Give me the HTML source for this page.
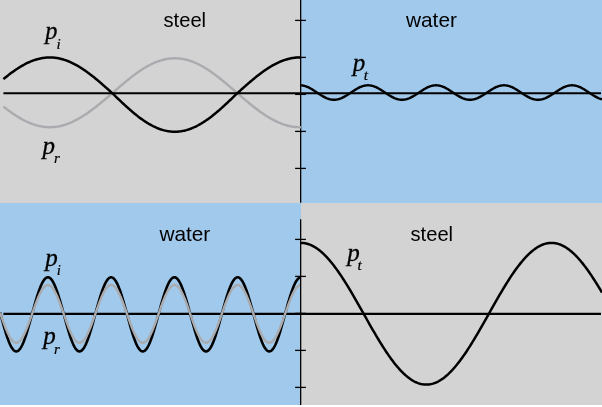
<!DOCTYPE html>
<html><head><meta charset="utf-8"><title>Wave transmission steel/water</title>
<style>
html,body{margin:0;padding:0;background:#fff;}
body{width:602px;height:407px;overflow:hidden;font-family:"Liberation Sans",sans-serif;}
svg{display:block;position:absolute;left:0;top:0;}
.txt{will-change:transform;}
</style></head><body>
<svg width="602" height="407" viewBox="0 0 602 407">
<rect x="0" y="0" width="602" height="407" fill="#fff"/>
<rect x="0" y="0" width="301" height="203" fill="#d3d3d3"/>
<rect x="301" y="0" width="301" height="203" fill="#a1c9eb"/>
<rect x="0" y="203" width="301" height="202" fill="#a1c9eb"/>
<rect x="301" y="203" width="301" height="202" fill="#d3d3d3"/>
<g fill="none" stroke-linecap="butt" stroke-linejoin="round">
<path d="M3.40 106.59 L4.40 107.37 L5.40 108.14 L6.40 108.90 L7.40 109.65 L8.40 110.39 L9.40 111.13 L10.40 111.85 L11.39 112.55 L12.39 113.25 L13.39 113.93 L14.39 114.60 L15.39 115.26 L16.39 115.90 L17.39 116.53 L18.39 117.14 L19.39 117.74 L20.39 118.33 L21.39 118.89 L22.39 119.44 L23.39 119.98 L24.39 120.50 L25.39 121.00 L26.38 121.48 L27.38 121.95 L28.38 122.39 L29.38 122.82 L30.38 123.23 L31.38 123.62 L32.38 123.99 L33.38 124.35 L34.38 124.68 L35.38 124.99 L36.38 125.28 L37.38 125.56 L38.38 125.81 L39.38 126.04 L40.38 126.25 L41.37 126.44 L42.37 126.61 L43.37 126.76 L44.37 126.88 L45.37 126.99 L46.37 127.07 L47.37 127.14 L48.37 127.18 L49.37 127.20 L50.37 127.20 L51.37 127.17 L52.37 127.13 L53.37 127.06 L54.37 126.98 L55.36 126.87 L56.36 126.74 L57.36 126.59 L58.36 126.42 L59.36 126.22 L60.36 126.01 L61.36 125.77 L62.36 125.52 L63.36 125.24 L64.36 124.95 L65.36 124.63 L66.36 124.30 L67.36 123.94 L68.36 123.57 L69.36 123.18 L70.35 122.76 L71.35 122.33 L72.35 121.88 L73.35 121.42 L74.35 120.93 L75.35 120.43 L76.35 119.91 L77.35 119.37 L78.35 118.82 L79.35 118.25 L80.35 117.66 L81.35 117.06 L82.35 116.45 L83.35 115.81 L84.35 115.17 L85.34 114.51 L86.34 113.84 L87.34 113.15 L88.34 112.46 L89.34 111.75 L90.34 111.03 L91.34 110.29 L92.34 109.55 L93.34 108.80 L94.34 108.03 L95.34 107.26 L96.34 106.48 L97.34 105.69 L98.34 104.89 L99.34 104.08 L100.33 103.27 L101.33 102.45 L102.33 101.63 L103.33 100.80 L104.33 99.96 L105.33 99.12 L106.33 98.28 L107.33 97.44 L108.33 96.59 L109.33 95.74 L110.33 94.88 L111.33 94.03 L112.33 93.18 L113.33 92.30 L114.33 91.42 L115.32 90.55 L116.32 89.68 L117.32 88.81 L118.32 87.94 L119.32 87.07 L120.32 86.21 L121.32 85.36 L122.32 84.50 L123.32 83.66 L124.32 82.82 L125.32 81.98 L126.32 81.16 L127.32 80.34 L128.32 79.53 L129.32 78.73 L130.31 77.93 L131.31 77.15 L132.31 76.38 L133.31 75.61 L134.31 74.86 L135.31 74.12 L136.31 73.39 L137.31 72.68 L138.31 71.98 L139.31 71.29 L140.31 70.61 L141.31 69.95 L142.31 69.31 L143.31 68.67 L144.31 68.06 L145.30 67.46 L146.30 66.87 L147.30 66.31 L148.30 65.76 L149.30 65.22 L150.30 64.71 L151.30 64.21 L152.30 63.73 L153.30 63.27 L154.30 62.83 L155.30 62.41 L156.30 62.01 L157.30 61.62 L158.30 61.26 L159.29 60.92 L160.29 60.59 L161.29 60.29 L162.29 60.01 L163.29 59.75 L164.29 59.51 L165.29 59.29 L166.29 59.10 L167.29 58.92 L168.29 58.77 L169.29 58.63 L170.29 58.52 L171.29 58.44 L172.29 58.37 L173.29 58.33 L174.28 58.30 L175.28 58.30 L176.28 58.32 L177.28 58.37 L178.28 58.43 L179.28 58.52 L180.28 58.63 L181.28 58.76 L182.28 58.91 L183.28 59.09 L184.28 59.29 L185.28 59.50 L186.28 59.74 L187.28 60.00 L188.28 60.28 L189.27 60.58 L190.27 60.91 L191.27 61.25 L192.27 61.61 L193.27 61.99 L194.27 62.40 L195.27 62.82 L196.27 63.26 L197.27 63.72 L198.27 64.20 L199.27 64.69 L200.27 65.21 L201.27 65.74 L202.27 66.29 L203.27 66.86 L204.26 67.44 L205.26 68.04 L206.26 68.65 L207.26 69.29 L208.26 69.93 L209.26 70.59 L210.26 71.27 L211.26 71.96 L212.26 72.66 L213.26 73.37 L214.26 74.10 L215.26 74.84 L216.26 75.59 L217.26 76.35 L218.26 77.13 L219.25 77.91 L220.25 78.70 L221.25 79.50 L222.25 80.31 L223.25 81.13 L224.25 81.96 L225.25 82.79 L226.25 83.63 L227.25 84.48 L228.25 85.33 L229.25 86.19 L230.25 87.05 L231.25 87.91 L232.25 88.78 L233.25 89.65 L234.24 90.52 L235.24 91.40 L236.24 92.27 L237.24 93.15 L238.24 94.00 L239.24 94.86 L240.24 95.71 L241.24 96.56 L242.24 97.41 L243.24 98.26 L244.24 99.10 L245.24 99.94 L246.24 100.77 L247.24 101.60 L248.24 102.43 L249.23 103.25 L250.23 104.06 L251.23 104.86 L252.23 105.66 L253.23 106.45 L254.23 107.24 L255.23 108.01 L256.23 108.77 L257.23 109.53 L258.23 110.27 L259.23 111.00 L260.23 111.73 L261.23 112.44 L262.23 113.13 L263.22 113.82 L264.22 114.49 L265.22 115.15 L266.22 115.80 L267.22 116.43 L268.22 117.04 L269.22 117.64 L270.22 118.23 L271.22 118.80 L272.22 119.35 L273.22 119.89 L274.22 120.41 L275.22 120.91 L276.22 121.40 L277.22 121.87 L278.21 122.32 L279.21 122.75 L280.21 123.16 L281.21 123.56 L282.21 123.93 L283.21 124.29 L284.21 124.62 L285.21 124.94 L286.21 125.24 L287.21 125.51 L288.21 125.77 L289.21 126.00 L290.21 126.22 L291.21 126.41 L292.21 126.58 L293.20 126.73 L294.20 126.86 L295.20 126.97 L296.20 127.06 L297.20 127.13 L298.20 127.17 L299.20 127.20 L300.20 127.20" stroke="#a9abae" stroke-width="2.4"/>
<path d="M3.40 79.13 L4.40 78.30 L5.40 77.49 L6.40 76.69 L7.40 75.90 L8.40 75.12 L9.40 74.35 L10.40 73.59 L11.39 72.85 L12.39 72.12 L13.39 71.40 L14.39 70.70 L15.39 70.00 L16.39 69.33 L17.39 68.67 L18.39 68.02 L19.39 67.39 L20.39 66.78 L21.39 66.18 L22.39 65.60 L23.39 65.04 L24.39 64.50 L25.39 63.97 L26.38 63.46 L27.38 62.97 L28.38 62.51 L29.38 62.05 L30.38 61.62 L31.38 61.21 L32.38 60.82 L33.38 60.45 L34.38 60.10 L35.38 59.77 L36.38 59.46 L37.38 59.18 L38.38 58.91 L39.38 58.67 L40.38 58.45 L41.37 58.25 L42.37 58.07 L43.37 57.92 L44.37 57.78 L45.37 57.67 L46.37 57.58 L47.37 57.52 L48.37 57.47 L49.37 57.45 L50.37 57.45 L51.37 57.48 L52.37 57.52 L53.37 57.59 L54.37 57.69 L55.36 57.80 L56.36 57.94 L57.36 58.09 L58.36 58.27 L59.36 58.48 L60.36 58.70 L61.36 58.95 L62.36 59.22 L63.36 59.51 L64.36 59.82 L65.36 60.15 L66.36 60.50 L67.36 60.87 L68.36 61.27 L69.36 61.68 L70.35 62.12 L71.35 62.57 L72.35 63.04 L73.35 63.53 L74.35 64.04 L75.35 64.57 L76.35 65.12 L77.35 65.68 L78.35 66.26 L79.35 66.86 L80.35 67.48 L81.35 68.11 L82.35 68.76 L83.35 69.42 L84.35 70.10 L85.34 70.79 L86.34 71.50 L87.34 72.22 L88.34 72.95 L89.34 73.70 L90.34 74.46 L91.34 75.23 L92.34 76.01 L93.34 76.80 L94.34 77.60 L95.34 78.42 L96.34 79.24 L97.34 80.07 L98.34 80.91 L99.34 81.76 L100.33 82.61 L101.33 83.47 L102.33 84.34 L103.33 85.21 L104.33 86.09 L105.33 86.97 L106.33 87.86 L107.33 88.75 L108.33 89.64 L109.33 90.53 L110.33 91.43 L111.33 92.33 L112.33 93.23 L113.33 94.19 L114.33 95.16 L115.32 96.13 L116.32 97.09 L117.32 98.05 L118.32 99.01 L119.32 99.97 L120.32 100.92 L121.32 101.87 L122.32 102.81 L123.32 103.74 L124.32 104.67 L125.32 105.59 L126.32 106.50 L127.32 107.41 L128.32 108.30 L129.32 109.19 L130.31 110.06 L131.31 110.93 L132.31 111.78 L133.31 112.63 L134.31 113.46 L135.31 114.27 L136.31 115.08 L137.31 115.87 L138.31 116.64 L139.31 117.40 L140.31 118.15 L141.31 118.88 L142.31 119.59 L143.31 120.29 L144.31 120.97 L145.30 121.63 L146.30 122.28 L147.30 122.91 L148.30 123.51 L149.30 124.10 L150.30 124.67 L151.30 125.22 L152.30 125.75 L153.30 126.26 L154.30 126.74 L155.30 127.21 L156.30 127.66 L157.30 128.08 L158.30 128.48 L159.29 128.86 L160.29 129.22 L161.29 129.55 L162.29 129.86 L163.29 130.15 L164.29 130.41 L165.29 130.65 L166.29 130.87 L167.29 131.07 L168.29 131.23 L169.29 131.38 L170.29 131.50 L171.29 131.60 L172.29 131.67 L173.29 131.72 L174.28 131.75 L175.28 131.75 L176.28 131.72 L177.28 131.67 L178.28 131.60 L179.28 131.51 L180.28 131.38 L181.28 131.24 L182.28 131.07 L183.28 130.88 L184.28 130.66 L185.28 130.42 L186.28 130.16 L187.28 129.87 L188.28 129.56 L189.27 129.23 L190.27 128.87 L191.27 128.49 L192.27 128.09 L193.27 127.67 L194.27 127.23 L195.27 126.76 L196.27 126.27 L197.27 125.76 L198.27 125.24 L199.27 124.69 L200.27 124.12 L201.27 123.53 L202.27 122.92 L203.27 122.30 L204.26 121.65 L205.26 120.99 L206.26 120.31 L207.26 119.62 L208.26 118.90 L209.26 118.17 L210.26 117.43 L211.26 116.67 L212.26 115.89 L213.26 115.10 L214.26 114.30 L215.26 113.48 L216.26 112.65 L217.26 111.81 L218.26 110.96 L219.25 110.09 L220.25 109.21 L221.25 108.33 L222.25 107.43 L223.25 106.53 L224.25 105.62 L225.25 104.70 L226.25 103.77 L227.25 102.83 L228.25 101.89 L229.25 100.95 L230.25 100.00 L231.25 99.04 L232.25 98.08 L233.25 97.12 L234.24 96.16 L235.24 95.19 L236.24 94.22 L237.24 93.26 L238.24 92.35 L239.24 91.46 L240.24 90.56 L241.24 89.67 L242.24 88.77 L243.24 87.88 L244.24 87.00 L245.24 86.12 L246.24 85.24 L247.24 84.37 L248.24 83.50 L249.23 82.64 L250.23 81.78 L251.23 80.94 L252.23 80.10 L253.23 79.26 L254.23 78.44 L255.23 77.63 L256.23 76.83 L257.23 76.03 L258.23 75.25 L259.23 74.48 L260.23 73.72 L261.23 72.97 L262.23 72.24 L263.22 71.52 L264.22 70.81 L265.22 70.12 L266.22 69.44 L267.22 68.78 L268.22 68.13 L269.22 67.50 L270.22 66.88 L271.22 66.28 L272.22 65.70 L273.22 65.14 L274.22 64.59 L275.22 64.06 L276.22 63.55 L277.22 63.06 L278.21 62.58 L279.21 62.13 L280.21 61.69 L281.21 61.28 L282.21 60.89 L283.21 60.51 L284.21 60.16 L285.21 59.83 L286.21 59.52 L287.21 59.23 L288.21 58.96 L289.21 58.71 L290.21 58.48 L291.21 58.28 L292.21 58.10 L293.20 57.94 L294.20 57.80 L295.20 57.69 L296.20 57.60 L297.20 57.53 L298.20 57.48 L299.20 57.45 L300.20 57.45" stroke="#000" stroke-width="2.5"/>
<path d="M301.00 85.33 L301.50 85.37 L302.00 85.42 L302.50 85.49 L303.00 85.58 L303.50 85.68 L304.00 85.79 L304.50 85.92 L305.00 86.06 L305.50 86.22 L306.00 86.39 L306.50 86.57 L307.00 86.76 L307.50 86.97 L308.00 87.19 L308.50 87.42 L309.00 87.67 L309.50 87.92 L310.00 88.18 L310.50 88.45 L311.00 88.73 L311.50 89.02 L312.00 89.32 L312.50 89.62 L313.00 89.93 L313.50 90.25 L314.00 90.57 L314.50 90.89 L315.00 91.22 L315.50 91.55 L316.00 91.88 L316.50 92.22 L317.00 92.55 L317.50 92.88 L318.00 93.22 L318.50 93.55 L319.00 93.88 L319.50 94.21 L320.00 94.53 L320.50 94.85 L321.00 95.17 L321.50 95.48 L322.00 95.78 L322.50 96.08 L323.00 96.37 L323.50 96.65 L324.00 96.92 L324.50 97.18 L325.00 97.43 L325.50 97.68 L326.00 97.91 L326.50 98.13 L327.00 98.34 L327.50 98.53 L328.00 98.71 L328.50 98.88 L329.00 99.04 L329.50 99.18 L330.00 99.31 L330.50 99.42 L331.00 99.52 L331.50 99.61 L332.00 99.68 L332.50 99.73 L333.00 99.77 L333.50 99.79 L334.00 99.80 L334.50 99.79 L335.00 99.77 L335.50 99.73 L336.00 99.68 L336.50 99.61 L337.00 99.52 L337.50 99.42 L338.00 99.31 L338.50 99.18 L339.00 99.04 L339.50 98.88 L340.00 98.71 L340.50 98.53 L341.00 98.34 L341.50 98.13 L342.00 97.91 L342.50 97.68 L343.00 97.43 L343.50 97.18 L344.00 96.92 L344.50 96.65 L345.00 96.37 L345.50 96.08 L346.00 95.78 L346.50 95.48 L347.00 95.17 L347.50 94.85 L348.00 94.53 L348.50 94.21 L349.00 93.88 L349.50 93.55 L350.00 93.22 L350.50 92.88 L351.00 92.55 L351.50 92.22 L352.00 91.88 L352.50 91.55 L353.00 91.22 L353.50 90.89 L354.00 90.57 L354.50 90.25 L355.00 89.93 L355.50 89.62 L356.00 89.32 L356.50 89.02 L357.00 88.73 L357.50 88.45 L358.00 88.18 L358.50 87.92 L359.00 87.67 L359.50 87.42 L360.00 87.19 L360.50 86.97 L361.00 86.76 L361.50 86.57 L362.00 86.39 L362.50 86.22 L363.00 86.06 L363.50 85.92 L364.00 85.79 L364.50 85.68 L365.00 85.58 L365.50 85.49 L366.00 85.42 L366.50 85.37 L367.00 85.33 L367.50 85.31 L368.00 85.30 L368.50 85.31 L369.00 85.33 L369.50 85.37 L370.00 85.42 L370.50 85.49 L371.00 85.58 L371.50 85.68 L372.00 85.79 L372.50 85.92 L373.00 86.06 L373.50 86.22 L374.00 86.39 L374.50 86.57 L375.00 86.76 L375.50 86.97 L376.00 87.19 L376.50 87.42 L377.00 87.67 L377.50 87.92 L378.00 88.18 L378.50 88.45 L379.00 88.73 L379.50 89.02 L380.00 89.32 L380.50 89.62 L381.00 89.93 L381.50 90.25 L382.00 90.57 L382.50 90.89 L383.00 91.22 L383.50 91.55 L384.00 91.88 L384.50 92.22 L385.00 92.55 L385.50 92.88 L386.00 93.22 L386.50 93.55 L387.00 93.88 L387.50 94.21 L388.00 94.53 L388.50 94.85 L389.00 95.17 L389.50 95.48 L390.00 95.78 L390.50 96.08 L391.00 96.37 L391.50 96.65 L392.00 96.92 L392.50 97.18 L393.00 97.43 L393.50 97.68 L394.00 97.91 L394.50 98.13 L395.00 98.34 L395.50 98.53 L396.00 98.71 L396.50 98.88 L397.00 99.04 L397.50 99.18 L398.00 99.31 L398.50 99.42 L399.00 99.52 L399.50 99.61 L400.00 99.68 L400.50 99.73 L401.00 99.77 L401.50 99.79 L402.00 99.80 L402.50 99.79 L403.00 99.77 L403.50 99.73 L404.00 99.68 L404.50 99.61 L405.00 99.52 L405.50 99.42 L406.00 99.31 L406.50 99.18 L407.00 99.04 L407.50 98.88 L408.00 98.71 L408.50 98.53 L409.00 98.34 L409.50 98.13 L410.00 97.91 L410.50 97.68 L411.00 97.43 L411.50 97.18 L412.00 96.92 L412.50 96.65 L413.00 96.37 L413.50 96.08 L414.00 95.78 L414.50 95.48 L415.00 95.17 L415.50 94.85 L416.00 94.53 L416.50 94.21 L417.00 93.88 L417.50 93.55 L418.00 93.22 L418.50 92.88 L419.00 92.55 L419.50 92.22 L420.00 91.88 L420.50 91.55 L421.00 91.22 L421.50 90.89 L422.00 90.57 L422.50 90.25 L423.00 89.93 L423.50 89.62 L424.00 89.32 L424.50 89.02 L425.00 88.73 L425.50 88.45 L426.00 88.18 L426.50 87.92 L427.00 87.67 L427.50 87.42 L428.00 87.19 L428.50 86.97 L429.00 86.76 L429.50 86.57 L430.00 86.39 L430.50 86.22 L431.00 86.06 L431.50 85.92 L432.00 85.79 L432.50 85.68 L433.00 85.58 L433.50 85.49 L434.00 85.42 L434.50 85.37 L435.00 85.33 L435.50 85.31 L436.00 85.30 L436.50 85.31 L437.00 85.33 L437.50 85.37 L438.00 85.42 L438.50 85.49 L439.00 85.58 L439.50 85.68 L440.00 85.79 L440.50 85.92 L441.00 86.06 L441.50 86.22 L442.00 86.39 L442.50 86.57 L443.00 86.76 L443.50 86.97 L444.00 87.19 L444.50 87.42 L445.00 87.67 L445.50 87.92 L446.00 88.18 L446.50 88.45 L447.00 88.73 L447.50 89.02 L448.00 89.32 L448.50 89.62 L449.00 89.93 L449.50 90.25 L450.00 90.57 L450.50 90.89 L451.00 91.22 L451.50 91.55 L452.00 91.88 L452.50 92.22 L453.00 92.55 L453.50 92.88 L454.00 93.22 L454.50 93.55 L455.00 93.88 L455.50 94.21 L456.00 94.53 L456.50 94.85 L457.00 95.17 L457.50 95.48 L458.00 95.78 L458.50 96.08 L459.00 96.37 L459.50 96.65 L460.00 96.92 L460.50 97.18 L461.00 97.43 L461.50 97.68 L462.00 97.91 L462.50 98.13 L463.00 98.34 L463.50 98.53 L464.00 98.71 L464.50 98.88 L465.00 99.04 L465.50 99.18 L466.00 99.31 L466.50 99.42 L467.00 99.52 L467.50 99.61 L468.00 99.68 L468.50 99.73 L469.00 99.77 L469.50 99.79 L470.00 99.80 L470.50 99.79 L471.00 99.77 L471.50 99.73 L472.00 99.68 L472.50 99.61 L473.00 99.52 L473.50 99.42 L474.00 99.31 L474.50 99.18 L475.00 99.04 L475.50 98.88 L476.00 98.71 L476.50 98.53 L477.00 98.34 L477.50 98.13 L478.00 97.91 L478.50 97.68 L479.00 97.43 L479.50 97.18 L480.00 96.92 L480.50 96.65 L481.00 96.37 L481.50 96.08 L482.00 95.78 L482.50 95.48 L483.00 95.17 L483.50 94.85 L484.00 94.53 L484.50 94.21 L485.00 93.88 L485.50 93.55 L486.00 93.22 L486.50 92.88 L487.00 92.55 L487.50 92.22 L488.00 91.88 L488.50 91.55 L489.00 91.22 L489.50 90.89 L490.00 90.57 L490.50 90.25 L491.00 89.93 L491.50 89.62 L492.00 89.32 L492.50 89.02 L493.00 88.73 L493.50 88.45 L494.00 88.18 L494.50 87.92 L495.00 87.67 L495.50 87.42 L496.00 87.19 L496.50 86.97 L497.00 86.76 L497.50 86.57 L498.00 86.39 L498.50 86.22 L499.00 86.06 L499.50 85.92 L500.00 85.79 L500.50 85.68 L501.00 85.58 L501.50 85.49 L502.00 85.42 L502.50 85.37 L503.00 85.33 L503.50 85.31 L504.00 85.30 L504.50 85.31 L505.00 85.33 L505.50 85.37 L506.00 85.42 L506.50 85.49 L507.00 85.58 L507.50 85.68 L508.00 85.79 L508.50 85.92 L509.00 86.06 L509.50 86.22 L510.00 86.39 L510.50 86.57 L511.00 86.76 L511.50 86.97 L512.00 87.19 L512.50 87.42 L513.00 87.67 L513.50 87.92 L514.00 88.18 L514.50 88.45 L515.00 88.73 L515.50 89.02 L516.00 89.32 L516.50 89.62 L517.00 89.93 L517.50 90.25 L518.00 90.57 L518.50 90.89 L519.00 91.22 L519.50 91.55 L520.00 91.88 L520.50 92.22 L521.00 92.55 L521.50 92.88 L522.00 93.22 L522.50 93.55 L523.00 93.88 L523.50 94.21 L524.00 94.53 L524.50 94.85 L525.00 95.17 L525.50 95.48 L526.00 95.78 L526.50 96.08 L527.00 96.37 L527.50 96.65 L528.00 96.92 L528.50 97.18 L529.00 97.43 L529.50 97.68 L530.00 97.91 L530.50 98.13 L531.00 98.34 L531.50 98.53 L532.00 98.71 L532.50 98.88 L533.00 99.04 L533.50 99.18 L534.00 99.31 L534.50 99.42 L535.00 99.52 L535.50 99.61 L536.00 99.68 L536.50 99.73 L537.00 99.77 L537.50 99.79 L538.00 99.80 L538.50 99.79 L539.00 99.77 L539.50 99.73 L540.00 99.68 L540.50 99.61 L541.00 99.52 L541.50 99.42 L542.00 99.31 L542.50 99.18 L543.00 99.04 L543.50 98.88 L544.00 98.71 L544.50 98.53 L545.00 98.34 L545.50 98.13 L546.00 97.91 L546.50 97.68 L547.00 97.43 L547.50 97.18 L548.00 96.92 L548.50 96.65 L549.00 96.37 L549.50 96.08 L550.00 95.78 L550.50 95.48 L551.00 95.17 L551.50 94.85 L552.00 94.53 L552.50 94.21 L553.00 93.88 L553.50 93.55 L554.00 93.22 L554.50 92.88 L555.00 92.55 L555.50 92.22 L556.00 91.88 L556.50 91.55 L557.00 91.22 L557.50 90.89 L558.00 90.57 L558.50 90.25 L559.00 89.93 L559.50 89.62 L560.00 89.32 L560.50 89.02 L561.00 88.73 L561.50 88.45 L562.00 88.18 L562.50 87.92 L563.00 87.67 L563.50 87.42 L564.00 87.19 L564.50 86.97 L565.00 86.76 L565.50 86.57 L566.00 86.39 L566.50 86.22 L567.00 86.06 L567.50 85.92 L568.00 85.79 L568.50 85.68 L569.00 85.58 L569.50 85.49 L570.00 85.42 L570.50 85.37 L571.00 85.33 L571.50 85.31 L572.00 85.30 L572.50 85.31 L573.00 85.33 L573.50 85.37 L574.00 85.42 L574.50 85.49 L575.00 85.58 L575.50 85.68 L576.00 85.79 L576.50 85.92 L577.00 86.06 L577.50 86.22 L578.00 86.39 L578.50 86.57 L579.00 86.76 L579.50 86.97 L580.00 87.19 L580.50 87.42 L581.00 87.67 L581.50 87.92 L582.00 88.18 L582.50 88.45 L583.00 88.73 L583.50 89.02 L584.00 89.32 L584.50 89.62 L585.00 89.93 L585.50 90.25 L586.00 90.57 L586.50 90.89 L587.00 91.22 L587.50 91.55 L588.00 91.88 L588.50 92.22 L589.00 92.55 L589.50 92.88 L590.00 93.22 L590.50 93.55 L591.00 93.88 L591.50 94.21 L592.00 94.53 L592.50 94.85 L593.00 95.17 L593.50 95.48 L594.00 95.78 L594.50 96.08 L595.00 96.37 L595.50 96.65 L596.00 96.92 L596.50 97.18 L597.00 97.43 L597.50 97.68 L598.00 97.91 L598.50 98.13 L599.00 98.34 L599.50 98.53 L600.00 98.71 L600.50 98.88 L601.00 99.04 L601.50 99.18 L602.00 99.31" stroke="#000" stroke-width="2.4"/>
<path d="M0.00 312.22 L0.50 314.04 L1.00 315.90 L1.50 317.76 L2.00 319.61 L2.50 321.44 L3.00 323.25 L3.50 325.04 L4.00 326.81 L4.50 328.54 L5.00 330.24 L5.50 331.89 L6.00 333.50 L6.50 335.07 L7.00 336.58 L7.50 338.03 L8.00 339.43 L8.50 340.76 L9.00 342.03 L9.50 343.22 L10.00 344.35 L10.50 345.40 L11.00 346.37 L11.50 347.26 L12.00 348.07 L12.50 348.79 L13.00 349.43 L13.50 349.98 L14.00 350.45 L14.50 350.82 L15.00 351.10 L15.50 351.29 L16.00 351.39 L16.50 351.39 L17.00 351.30 L17.50 351.12 L18.00 350.85 L18.50 350.49 L19.00 350.03 L19.50 349.49 L20.00 348.86 L20.50 348.15 L21.00 347.34 L21.50 346.46 L22.00 345.50 L22.50 344.46 L23.00 343.34 L23.50 342.15 L24.00 340.89 L24.50 339.56 L25.00 338.17 L25.50 336.73 L26.00 335.22 L26.50 333.66 L27.00 332.06 L27.50 330.40 L28.00 328.71 L28.50 326.98 L29.00 325.22 L29.50 323.43 L30.00 321.62 L30.50 319.79 L31.00 317.94 L31.50 316.09 L32.00 314.23 L32.50 312.40 L33.00 310.59 L33.50 308.78 L34.00 306.99 L34.50 305.21 L35.00 303.46 L35.50 301.73 L36.00 300.03 L36.50 298.37 L37.00 296.74 L37.50 295.16 L38.00 293.62 L38.50 292.13 L39.00 290.70 L39.50 289.32 L40.00 288.00 L40.50 286.75 L41.00 285.57 L41.50 284.45 L42.00 283.41 L42.50 282.44 L43.00 281.55 L43.50 280.74 L44.00 280.01 L44.50 279.37 L45.00 278.81 L45.50 278.34 L46.00 277.95 L46.50 277.65 L47.00 277.45 L47.50 277.33 L48.00 277.30 L48.50 277.36 L49.00 277.52 L49.50 277.76 L50.00 278.09 L50.50 278.51 L51.00 279.02 L51.50 279.62 L52.00 280.29 L52.50 281.06 L53.00 281.90 L53.50 282.82 L54.00 283.82 L54.50 284.89 L55.00 286.03 L55.50 287.24 L56.00 288.52 L56.50 289.86 L57.00 291.26 L57.50 292.72 L58.00 294.23 L58.50 295.78 L59.00 297.39 L59.50 299.03 L60.00 300.71 L60.50 302.42 L61.00 304.16 L61.50 305.92 L62.00 307.70 L62.50 309.50 L63.00 311.31 L63.50 313.13 L64.00 314.97 L64.50 316.83 L65.00 318.68 L65.50 320.52 L66.00 322.35 L66.50 324.15 L67.00 325.93 L67.50 327.68 L68.00 329.39 L68.50 331.07 L69.00 332.70 L69.50 334.29 L70.00 335.83 L70.50 337.31 L71.00 338.74 L71.50 340.10 L72.00 341.40 L72.50 342.63 L73.00 343.79 L73.50 344.88 L74.00 345.89 L74.50 346.82 L75.00 347.67 L75.50 348.44 L76.00 349.12 L76.50 349.72 L77.00 350.23 L77.50 350.64 L78.00 350.97 L78.50 351.21 L79.00 351.35 L79.50 351.40 L80.00 351.36 L80.50 351.22 L81.00 351.00 L81.50 350.68 L82.00 350.27 L82.50 349.77 L83.00 349.19 L83.50 348.51 L84.00 347.76 L84.50 346.91 L85.00 345.99 L85.50 344.99 L86.00 343.91 L86.50 342.75 L87.00 341.53 L87.50 340.23 L88.00 338.88 L88.50 337.46 L89.00 335.98 L89.50 334.45 L90.00 332.86 L90.50 331.24 L91.00 329.56 L91.50 327.85 L92.00 326.11 L92.50 324.33 L93.00 322.53 L93.50 320.71 L94.00 318.87 L94.50 317.02 L95.00 315.16 L95.50 313.31 L96.00 311.49 L96.50 309.68 L97.00 307.88 L97.50 306.10 L98.00 304.33 L98.50 302.59 L99.00 300.88 L99.50 299.19 L100.00 297.55 L100.50 295.94 L101.00 294.38 L101.50 292.87 L102.00 291.41 L102.50 290.00 L103.00 288.65 L103.50 287.37 L104.00 286.15 L104.50 285.00 L105.00 283.92 L105.50 282.92 L106.00 281.99 L106.50 281.14 L107.00 280.37 L107.50 279.68 L108.00 279.08 L108.50 278.56 L109.00 278.13 L109.50 277.79 L110.00 277.54 L110.50 277.38 L111.00 277.30 L111.50 277.32 L112.00 277.43 L112.50 277.63 L113.00 277.92 L113.50 278.29 L114.00 278.76 L114.50 279.31 L115.00 279.94 L115.50 280.66 L116.00 281.47 L116.50 282.35 L117.00 283.31 L117.50 284.34 L118.00 285.45 L118.50 286.63 L119.00 287.88 L119.50 289.19 L120.00 290.56 L120.50 291.98 L121.00 293.47 L121.50 295.00 L122.00 296.58 L122.50 298.20 L123.00 299.86 L123.50 301.56 L124.00 303.28 L124.50 305.04 L125.00 306.81 L125.50 308.60 L126.00 310.41 L126.50 312.22 L127.00 314.04 L127.50 315.90 L128.00 317.76 L128.50 319.61 L129.00 321.44 L129.50 323.25 L130.00 325.04 L130.50 326.81 L131.00 328.54 L131.50 330.24 L132.00 331.89 L132.50 333.50 L133.00 335.07 L133.50 336.58 L134.00 338.03 L134.50 339.43 L135.00 340.76 L135.50 342.03 L136.00 343.22 L136.50 344.35 L137.00 345.40 L137.50 346.37 L138.00 347.26 L138.50 348.07 L139.00 348.79 L139.50 349.43 L140.00 349.98 L140.50 350.45 L141.00 350.82 L141.50 351.10 L142.00 351.29 L142.50 351.39 L143.00 351.39 L143.50 351.30 L144.00 351.12 L144.50 350.85 L145.00 350.49 L145.50 350.03 L146.00 349.49 L146.50 348.86 L147.00 348.15 L147.50 347.34 L148.00 346.46 L148.50 345.50 L149.00 344.46 L149.50 343.34 L150.00 342.15 L150.50 340.89 L151.00 339.56 L151.50 338.17 L152.00 336.73 L152.50 335.22 L153.00 333.66 L153.50 332.06 L154.00 330.40 L154.50 328.71 L155.00 326.98 L155.50 325.22 L156.00 323.43 L156.50 321.62 L157.00 319.79 L157.50 317.94 L158.00 316.09 L158.50 314.23 L159.00 312.40 L159.50 310.59 L160.00 308.78 L160.50 306.99 L161.00 305.21 L161.50 303.46 L162.00 301.73 L162.50 300.03 L163.00 298.37 L163.50 296.74 L164.00 295.16 L164.50 293.62 L165.00 292.13 L165.50 290.70 L166.00 289.32 L166.50 288.00 L167.00 286.75 L167.50 285.57 L168.00 284.45 L168.50 283.41 L169.00 282.44 L169.50 281.55 L170.00 280.74 L170.50 280.01 L171.00 279.37 L171.50 278.81 L172.00 278.34 L172.50 277.95 L173.00 277.65 L173.50 277.45 L174.00 277.33 L174.50 277.30 L175.00 277.36 L175.50 277.52 L176.00 277.76 L176.50 278.09 L177.00 278.51 L177.50 279.02 L178.00 279.62 L178.50 280.29 L179.00 281.06 L179.50 281.90 L180.00 282.82 L180.50 283.82 L181.00 284.89 L181.50 286.03 L182.00 287.24 L182.50 288.52 L183.00 289.86 L183.50 291.26 L184.00 292.72 L184.50 294.23 L185.00 295.78 L185.50 297.39 L186.00 299.03 L186.50 300.71 L187.00 302.42 L187.50 304.16 L188.00 305.92 L188.50 307.70 L189.00 309.50 L189.50 311.31 L190.00 313.13 L190.50 314.97 L191.00 316.83 L191.50 318.68 L192.00 320.52 L192.50 322.35 L193.00 324.15 L193.50 325.93 L194.00 327.68 L194.50 329.39 L195.00 331.07 L195.50 332.70 L196.00 334.29 L196.50 335.83 L197.00 337.31 L197.50 338.74 L198.00 340.10 L198.50 341.40 L199.00 342.63 L199.50 343.79 L200.00 344.88 L200.50 345.89 L201.00 346.82 L201.50 347.67 L202.00 348.44 L202.50 349.12 L203.00 349.72 L203.50 350.23 L204.00 350.64 L204.50 350.97 L205.00 351.21 L205.50 351.35 L206.00 351.40 L206.50 351.36 L207.00 351.22 L207.50 351.00 L208.00 350.68 L208.50 350.27 L209.00 349.77 L209.50 349.19 L210.00 348.51 L210.50 347.76 L211.00 346.91 L211.50 345.99 L212.00 344.99 L212.50 343.91 L213.00 342.75 L213.50 341.53 L214.00 340.23 L214.50 338.88 L215.00 337.46 L215.50 335.98 L216.00 334.45 L216.50 332.86 L217.00 331.24 L217.50 329.56 L218.00 327.85 L218.50 326.11 L219.00 324.33 L219.50 322.53 L220.00 320.71 L220.50 318.87 L221.00 317.02 L221.50 315.16 L222.00 313.31 L222.50 311.49 L223.00 309.68 L223.50 307.88 L224.00 306.10 L224.50 304.33 L225.00 302.59 L225.50 300.88 L226.00 299.19 L226.50 297.55 L227.00 295.94 L227.50 294.38 L228.00 292.87 L228.50 291.41 L229.00 290.00 L229.50 288.65 L230.00 287.37 L230.50 286.15 L231.00 285.00 L231.50 283.92 L232.00 282.92 L232.50 281.99 L233.00 281.14 L233.50 280.37 L234.00 279.68 L234.50 279.08 L235.00 278.56 L235.50 278.13 L236.00 277.79 L236.50 277.54 L237.00 277.38 L237.50 277.30 L238.00 277.32 L238.50 277.43 L239.00 277.63 L239.50 277.92 L240.00 278.29 L240.50 278.76 L241.00 279.31 L241.50 279.94 L242.00 280.66 L242.50 281.47 L243.00 282.35 L243.50 283.31 L244.00 284.34 L244.50 285.45 L245.00 286.63 L245.50 287.88 L246.00 289.19 L246.50 290.56 L247.00 291.98 L247.50 293.47 L248.00 295.00 L248.50 296.58 L249.00 298.20 L249.50 299.86 L250.00 301.56 L250.50 303.28 L251.00 305.04 L251.50 306.81 L252.00 308.60 L252.50 310.41 L253.00 312.22 L253.50 314.04 L254.00 315.90 L254.50 317.76 L255.00 319.61 L255.50 321.44 L256.00 323.25 L256.50 325.04 L257.00 326.81 L257.50 328.54 L258.00 330.24 L258.50 331.89 L259.00 333.50 L259.50 335.07 L260.00 336.58 L260.50 338.03 L261.00 339.43 L261.50 340.76 L262.00 342.03 L262.50 343.22 L263.00 344.35 L263.50 345.40 L264.00 346.37 L264.50 347.26 L265.00 348.07 L265.50 348.79 L266.00 349.43 L266.50 349.98 L267.00 350.45 L267.50 350.82 L268.00 351.10 L268.50 351.29 L269.00 351.39 L269.50 351.39 L270.00 351.30 L270.50 351.12 L271.00 350.85 L271.50 350.49 L272.00 350.03 L272.50 349.49 L273.00 348.86 L273.50 348.15 L274.00 347.34 L274.50 346.46 L275.00 345.50 L275.50 344.46 L276.00 343.34 L276.50 342.15 L277.00 340.89 L277.50 339.56 L278.00 338.17 L278.50 336.73 L279.00 335.22 L279.50 333.66 L280.00 332.06 L280.50 330.40 L281.00 328.71 L281.50 326.98 L282.00 325.22 L282.50 323.43 L283.00 321.62 L283.50 319.79 L284.00 317.94 L284.50 316.09 L285.00 314.23 L285.50 312.40 L286.00 310.59 L286.50 308.78 L287.00 306.99 L287.50 305.21 L288.00 303.46 L288.50 301.73 L289.00 300.03 L289.50 298.37 L290.00 296.74 L290.50 295.16 L291.00 293.62 L291.50 292.13 L292.00 290.70 L292.50 289.32 L293.00 288.00 L293.50 286.75 L294.00 285.57 L294.50 284.45 L295.00 283.41 L295.50 282.44 L296.00 281.55 L296.50 280.74 L297.00 280.01 L297.50 279.37 L298.00 278.81 L298.50 278.34 L299.00 277.95 L299.50 277.65 L300.00 277.45 L300.50 277.33" stroke="#000" stroke-width="2.6"/>
<path d="M301.00 242.90 L302.00 242.92 L303.00 242.99 L304.00 243.10 L305.00 243.26 L306.00 243.46 L307.00 243.70 L308.00 243.99 L309.00 244.32 L310.00 244.70 L311.00 245.12 L312.00 245.58 L313.00 246.09 L314.00 246.63 L315.00 247.22 L316.00 247.86 L317.00 248.53 L318.00 249.24 L319.00 250.00 L320.00 250.79 L321.00 251.63 L322.00 252.50 L323.00 253.42 L324.00 254.37 L325.00 255.35 L326.00 256.38 L327.00 257.44 L328.00 258.54 L329.00 259.67 L330.00 260.83 L331.00 262.03 L332.00 263.26 L333.00 264.52 L334.00 265.82 L335.00 267.14 L336.00 268.49 L337.00 269.87 L338.00 271.28 L339.00 272.72 L340.00 274.18 L341.00 275.67 L342.00 277.18 L343.00 278.71 L344.00 280.27 L345.00 281.84 L346.00 283.44 L347.00 285.05 L348.00 286.69 L349.00 288.34 L350.00 290.01 L351.00 291.69 L352.00 293.38 L353.00 295.09 L354.00 296.81 L355.00 298.54 L356.00 300.28 L357.00 302.03 L358.00 303.79 L359.00 305.55 L360.00 307.32 L361.00 309.09 L362.00 310.86 L363.00 312.64 L364.00 314.42 L365.00 316.19 L366.00 317.97 L367.00 319.74 L368.00 321.51 L369.00 323.27 L370.00 325.03 L371.00 326.78 L372.00 328.52 L373.00 330.26 L374.00 331.98 L375.00 333.69 L376.00 335.39 L377.00 337.08 L378.00 338.75 L379.00 340.40 L380.00 342.04 L381.00 343.66 L382.00 345.26 L383.00 346.84 L384.00 348.40 L385.00 349.94 L386.00 351.46 L387.00 352.95 L388.00 354.42 L389.00 355.86 L390.00 357.28 L391.00 358.66 L392.00 360.02 L393.00 361.36 L394.00 362.66 L395.00 363.93 L396.00 365.17 L397.00 366.37 L398.00 367.55 L399.00 368.68 L400.00 369.79 L401.00 370.86 L402.00 371.89 L403.00 372.89 L404.00 373.85 L405.00 374.77 L406.00 375.66 L407.00 376.50 L408.00 377.31 L409.00 378.07 L410.00 378.80 L411.00 379.48 L412.00 380.12 L413.00 380.72 L414.00 381.28 L415.00 381.80 L416.00 382.27 L417.00 382.70 L418.00 383.09 L419.00 383.43 L420.00 383.73 L421.00 383.99 L422.00 384.20 L423.00 384.36 L424.00 384.49 L425.00 384.57 L426.00 384.60 L427.00 384.59 L428.00 384.53 L429.00 384.43 L430.00 384.29 L431.00 384.10 L432.00 383.86 L433.00 383.59 L434.00 383.27 L435.00 382.90 L436.00 382.49 L437.00 382.04 L438.00 381.55 L439.00 381.01 L440.00 380.43 L441.00 379.81 L442.00 379.14 L443.00 378.44 L444.00 377.69 L445.00 376.91 L446.00 376.08 L447.00 375.22 L448.00 374.32 L449.00 373.37 L450.00 372.40 L451.00 371.38 L452.00 370.33 L453.00 369.24 L454.00 368.12 L455.00 366.96 L456.00 365.77 L457.00 364.55 L458.00 363.30 L459.00 362.01 L460.00 360.69 L461.00 359.35 L462.00 357.97 L463.00 356.57 L464.00 355.14 L465.00 353.69 L466.00 352.21 L467.00 350.70 L468.00 349.17 L469.00 347.63 L470.00 346.05 L471.00 344.46 L472.00 342.85 L473.00 341.22 L474.00 339.58 L475.00 337.91 L476.00 336.23 L477.00 334.54 L478.00 332.84 L479.00 331.12 L480.00 329.39 L481.00 327.65 L482.00 325.91 L483.00 324.15 L484.00 322.39 L485.00 320.63 L486.00 318.85 L487.00 317.08 L488.00 315.30 L489.00 313.53 L490.00 311.75 L491.00 309.98 L492.00 308.20 L493.00 306.43 L494.00 304.67 L495.00 302.91 L496.00 301.16 L497.00 299.41 L498.00 297.68 L499.00 295.95 L500.00 294.24 L501.00 292.53 L502.00 290.84 L503.00 289.17 L504.00 287.51 L505.00 285.87 L506.00 284.24 L507.00 282.64 L508.00 281.05 L509.00 279.49 L510.00 277.94 L511.00 276.42 L512.00 274.92 L513.00 273.45 L514.00 272.00 L515.00 270.58 L516.00 269.18 L517.00 267.81 L518.00 266.47 L519.00 265.17 L520.00 263.89 L521.00 262.64 L522.00 261.43 L523.00 260.24 L524.00 259.10 L525.00 257.98 L526.00 256.90 L527.00 255.86 L528.00 254.86 L529.00 253.89 L530.00 252.95 L531.00 252.06 L532.00 251.21 L533.00 250.39 L534.00 249.62 L535.00 248.88 L536.00 248.19 L537.00 247.53 L538.00 246.92 L539.00 246.35 L540.00 245.83 L541.00 245.34 L542.00 244.90 L543.00 244.50 L544.00 244.15 L545.00 243.84 L546.00 243.57 L547.00 243.35 L548.00 243.17 L549.00 243.04 L550.00 242.95 L551.00 242.91 L552.00 242.91 L553.00 242.95 L554.00 243.04 L555.00 243.17 L556.00 243.35 L557.00 243.57 L558.00 243.84 L559.00 244.15 L560.00 244.50 L561.00 244.90 L562.00 245.34 L563.00 245.83 L564.00 246.35 L565.00 246.92 L566.00 247.53 L567.00 248.19 L568.00 248.88 L569.00 249.62 L570.00 250.39 L571.00 251.21 L572.00 252.06 L573.00 252.95 L574.00 253.89 L575.00 254.86 L576.00 255.86 L577.00 256.90 L578.00 257.98 L579.00 259.10 L580.00 260.24 L581.00 261.43 L582.00 262.64 L583.00 263.89 L584.00 265.17 L585.00 266.47 L586.00 267.81 L587.00 269.18 L588.00 270.58 L589.00 272.00 L590.00 273.45 L591.00 274.92 L592.00 276.42 L593.00 277.94 L594.00 279.49 L595.00 281.05 L596.00 282.64 L597.00 284.24 L598.00 285.87 L599.00 287.51 L600.00 289.17 L601.00 290.84 L602.00 292.53" stroke="#000" stroke-width="2.5"/>
<line x1="3.4" y1="93.20" x2="601" y2="93.20" stroke="#000" stroke-width="2.1"/>
<line x1="3.4" y1="313.90" x2="601" y2="313.90" stroke="#000" stroke-width="2.1"/>
<path d="M0.00 312.57 L0.50 314.01 L1.00 315.44 L1.50 316.86 L2.00 318.28 L2.50 319.68 L3.00 321.08 L3.50 322.45 L4.00 323.81 L4.50 325.14 L5.00 326.44 L5.50 327.71 L6.00 328.95 L6.50 330.15 L7.00 331.31 L7.50 332.42 L7.99 333.49 L8.49 334.52 L8.99 335.49 L9.49 336.41 L9.99 337.27 L10.49 338.08 L10.99 338.83 L11.49 339.51 L11.99 340.13 L12.49 340.69 L12.99 341.18 L13.49 341.61 L13.99 341.96 L14.49 342.25 L14.99 342.47 L15.49 342.61 L15.99 342.69 L16.49 342.69 L16.99 342.63 L17.49 342.49 L17.99 342.28 L18.49 342.01 L18.99 341.66 L19.49 341.25 L19.99 340.76 L20.49 340.22 L20.99 339.60 L21.49 338.93 L21.99 338.19 L22.49 337.39 L22.98 336.54 L23.48 335.62 L23.98 334.66 L24.48 333.64 L24.98 332.58 L25.48 331.47 L25.98 330.31 L26.48 329.12 L26.98 327.89 L27.48 326.62 L27.98 325.32 L28.48 324.00 L28.98 322.65 L29.48 321.28 L29.98 319.89 L30.48 318.48 L30.98 317.06 L31.48 315.64 L31.98 314.21 L32.48 312.78 L32.98 311.35 L33.48 309.92 L33.98 308.51 L34.48 307.10 L34.98 305.72 L35.48 304.35 L35.98 303.01 L36.48 301.70 L36.98 300.41 L37.48 299.16 L37.97 297.95 L38.47 296.77 L38.97 295.64 L39.47 294.55 L39.97 293.51 L40.47 292.52 L40.97 291.58 L41.47 290.69 L41.97 289.87 L42.47 289.10 L42.97 288.40 L43.47 287.75 L43.97 287.17 L44.47 286.66 L44.97 286.22 L45.47 285.84 L45.97 285.53 L46.47 285.29 L46.97 285.12 L47.47 285.03 L47.97 285.00 L48.47 285.05 L48.97 285.16 L49.47 285.35 L49.97 285.61 L50.47 285.93 L50.97 286.33 L51.47 286.79 L51.97 287.32 L52.47 287.92 L52.96 288.58 L53.46 289.30 L53.96 290.09 L54.46 290.93 L54.96 291.83 L55.46 292.78 L55.96 293.78 L56.46 294.84 L56.96 295.94 L57.46 297.09 L57.96 298.27 L58.46 299.50 L58.96 300.76 L59.46 302.05 L59.96 303.37 L60.46 304.72 L60.96 306.09 L61.46 307.48 L61.96 308.89 L62.46 310.31 L62.96 311.74 L63.46 313.17 L63.96 314.60 L64.46 316.03 L64.96 317.45 L65.46 318.86 L65.96 320.27 L66.46 321.65 L66.96 323.02 L67.46 324.36 L67.95 325.68 L68.45 326.97 L68.95 328.23 L69.45 329.45 L69.95 330.63 L70.45 331.78 L70.95 332.87 L71.45 333.93 L71.95 334.93 L72.45 335.88 L72.95 336.77 L73.45 337.61 L73.95 338.40 L74.45 339.12 L74.95 339.78 L75.45 340.37 L75.95 340.90 L76.45 341.37 L76.95 341.76 L77.45 342.09 L77.95 342.35 L78.45 342.54 L78.95 342.65 L79.45 342.70 L79.95 342.67 L80.45 342.58 L80.95 342.41 L81.45 342.18 L81.95 341.87 L82.45 341.50 L82.94 341.05 L83.44 340.54 L83.94 339.97 L84.44 339.33 L84.94 338.63 L85.44 337.86 L85.94 337.04 L86.44 336.16 L86.94 335.23 L87.44 334.24 L87.94 333.21 L88.44 332.12 L88.94 330.99 L89.44 329.82 L89.94 328.61 L90.44 327.37 L90.94 326.09 L91.44 324.78 L91.94 323.44 L92.44 322.08 L92.94 320.70 L93.44 319.30 L93.94 317.89 L94.44 316.47 L94.94 315.05 L95.44 313.62 L95.94 312.18 L96.44 310.75 L96.94 309.33 L97.44 307.92 L97.93 306.53 L98.43 305.15 L98.93 303.79 L99.43 302.46 L99.93 301.16 L100.43 299.89 L100.93 298.65 L101.43 297.45 L101.93 296.29 L102.43 295.18 L102.93 294.11 L103.43 293.09 L103.93 292.12 L104.43 291.20 L104.93 290.34 L105.43 289.54 L105.93 288.80 L106.43 288.12 L106.93 287.50 L107.43 286.95 L107.93 286.47 L108.43 286.05 L108.93 285.70 L109.43 285.42 L109.93 285.21 L110.43 285.07 L110.93 285.01 L111.43 285.01 L111.93 285.09 L112.43 285.23 L112.92 285.45 L113.42 285.73 L113.92 286.09 L114.42 286.51 L114.92 287.01 L115.42 287.56 L115.92 288.19 L116.42 288.87 L116.92 289.62 L117.42 290.43 L117.92 291.30 L118.42 292.22 L118.92 293.19 L119.42 294.22 L119.92 295.29 L120.42 296.41 L120.92 297.57 L121.42 298.78 L121.92 300.02 L122.42 301.29 L122.92 302.60 L123.42 303.93 L123.92 305.29 L124.42 306.67 L124.92 308.07 L125.42 309.48 L125.92 310.90 L126.42 312.33 L126.92 313.76 L127.42 315.19 L127.91 316.62 L128.41 318.04 L128.91 319.45 L129.41 320.84 L129.91 322.22 L130.41 323.58 L130.91 324.91 L131.41 326.22 L131.91 327.50 L132.41 328.74 L132.91 329.95 L133.41 331.11 L133.91 332.24 L134.41 333.32 L134.91 334.35 L135.41 335.33 L135.91 336.26 L136.41 337.13 L136.91 337.95 L137.41 338.70 L137.91 339.40 L138.41 340.03 L138.91 340.60 L139.41 341.10 L139.91 341.54 L140.41 341.91 L140.91 342.21 L141.41 342.43 L141.91 342.59 L142.41 342.68 L142.90 342.70 L143.40 342.64 L143.90 342.52 L144.40 342.32 L144.90 342.06 L145.40 341.72 L145.90 341.32 L146.40 340.85 L146.90 340.31 L147.40 339.71 L147.90 339.05 L148.40 338.32 L148.90 337.53 L149.40 336.68 L149.90 335.78 L150.40 334.83 L150.90 333.82 L151.40 332.76 L151.90 331.66 L152.40 330.51 L152.90 329.32 L153.40 328.10 L153.90 326.84 L154.40 325.55 L154.90 324.22 L155.40 322.88 L155.90 321.51 L156.40 320.12 L156.90 318.72 L157.40 317.30 L157.89 315.88 L158.39 314.45 L158.89 313.02 L159.39 311.59 L159.89 310.16 L160.39 308.74 L160.89 307.34 L161.39 305.95 L161.89 304.58 L162.39 303.24 L162.89 301.92 L163.39 300.63 L163.89 299.37 L164.39 298.15 L164.89 296.96 L165.39 295.82 L165.89 294.73 L166.39 293.68 L166.89 292.68 L167.39 291.73 L167.89 290.84 L168.39 290.00 L168.89 289.23 L169.39 288.51 L169.89 287.86 L170.39 287.27 L170.89 286.74 L171.39 286.29 L171.89 285.90 L172.39 285.58 L172.88 285.33 L173.38 285.15 L173.88 285.04 L174.38 285.00 L174.88 285.03 L175.38 285.14 L175.88 285.31 L176.38 285.56 L176.88 285.87 L177.38 286.26 L177.88 286.71 L178.38 287.23 L178.88 287.82 L179.38 288.47 L179.88 289.18 L180.38 289.95 L180.88 290.78 L181.38 291.67 L181.88 292.62 L182.38 293.61 L182.88 294.66 L183.38 295.75 L183.88 296.89 L184.38 298.07 L184.88 299.29 L185.38 300.54 L185.88 301.83 L186.38 303.15 L186.88 304.49 L187.38 305.86 L187.87 307.25 L188.37 308.65 L188.87 310.07 L189.37 311.50 L189.87 312.93 L190.37 314.36 L190.87 315.79 L191.37 317.21 L191.87 318.63 L192.37 320.03 L192.87 321.42 L193.37 322.79 L193.87 324.14 L194.37 325.46 L194.87 326.76 L195.37 328.02 L195.87 329.25 L196.37 330.44 L196.87 331.59 L197.37 332.69 L197.87 333.75 L198.37 334.76 L198.87 335.72 L199.37 336.63 L199.87 337.48 L200.37 338.27 L200.87 339.00 L201.37 339.67 L201.87 340.28 L202.37 340.82 L202.86 341.29 L203.36 341.70 L203.86 342.04 L204.36 342.31 L204.86 342.51 L205.36 342.64 L205.86 342.70 L206.36 342.68 L206.86 342.60 L207.36 342.45 L207.86 342.22 L208.36 341.93 L208.86 341.56 L209.36 341.13 L209.86 340.63 L210.36 340.07 L210.86 339.44 L211.36 338.75 L211.86 338.00 L212.36 337.19 L212.86 336.32 L213.36 335.39 L213.86 334.41 L214.36 333.38 L214.86 332.31 L215.36 331.19 L215.86 330.02 L216.36 328.82 L216.86 327.58 L217.36 326.30 L217.85 325.00 L218.35 323.67 L218.85 322.31 L219.35 320.93 L219.85 319.54 L220.35 318.13 L220.85 316.71 L221.35 315.29 L221.85 313.86 L222.35 312.42 L222.85 310.99 L223.35 309.57 L223.85 308.16 L224.35 306.76 L224.85 305.38 L225.35 304.02 L225.85 302.68 L226.35 301.38 L226.85 300.10 L227.35 298.86 L227.85 297.65 L228.35 296.49 L228.85 295.36 L229.35 294.29 L229.85 293.26 L230.35 292.28 L230.85 291.35 L231.35 290.48 L231.85 289.67 L232.35 288.92 L232.84 288.23 L233.34 287.60 L233.84 287.04 L234.34 286.54 L234.84 286.12 L235.34 285.76 L235.84 285.46 L236.34 285.24 L236.84 285.09 L237.34 285.01 L237.84 285.01 L238.34 285.07 L238.84 285.20 L239.34 285.41 L239.84 285.68 L240.34 286.03 L240.84 286.44 L241.34 286.92 L241.84 287.47 L242.34 288.08 L242.84 288.75 L243.34 289.49 L243.84 290.29 L244.34 291.15 L244.84 292.06 L245.34 293.02 L245.84 294.04 L246.34 295.11 L246.84 296.22 L247.34 297.38 L247.83 298.57 L248.33 299.81 L248.83 301.08 L249.33 302.38 L249.83 303.71 L250.33 305.06 L250.83 306.44 L251.33 307.83 L251.83 309.24 L252.33 310.66 L252.83 312.09 L253.33 313.52 L253.83 314.95 L254.33 316.38 L254.83 317.80 L255.33 319.21 L255.83 320.61 L256.33 321.99 L256.83 323.35 L257.33 324.69 L257.83 326.00 L258.33 327.28 L258.83 328.53 L259.33 329.75 L259.83 330.92 L260.33 332.05 L260.83 333.14 L261.33 334.18 L261.83 335.17 L262.33 336.10 L262.82 336.99 L263.32 337.81 L263.82 338.58 L264.32 339.29 L264.82 339.93 L265.32 340.51 L265.82 341.02 L266.32 341.47 L266.82 341.85 L267.32 342.16 L267.82 342.40 L268.32 342.57 L268.82 342.67 L269.32 342.70 L269.82 342.66 L270.32 342.54 L270.82 342.36 L271.32 342.11 L271.82 341.79 L272.32 341.39 L272.82 340.93 L273.32 340.41 L273.82 339.82 L274.32 339.16 L274.82 338.44 L275.32 337.67 L275.82 336.83 L276.32 335.94 L276.82 334.99 L277.32 333.99 L277.81 332.94 L278.31 331.85 L278.81 330.71 L279.31 329.53 L279.81 328.31 L280.31 327.05 L280.81 325.77 L281.31 324.45 L281.81 323.11 L282.31 321.74 L282.81 320.36 L283.31 318.96 L283.81 317.54 L284.31 316.12 L284.81 314.69 L285.31 313.26 L285.81 311.83 L286.31 310.40 L286.81 308.98 L287.31 307.57 L287.81 306.18 L288.31 304.81 L288.81 303.46 L289.31 302.14 L289.81 300.84 L290.31 299.58 L290.81 298.35 L291.31 297.16 L291.81 296.01 L292.31 294.91 L292.80 293.85 L293.30 292.84 L293.80 291.89 L294.30 290.99 L294.80 290.14 L295.30 289.35 L295.80 288.63 L296.30 287.96 L296.80 287.36 L297.30 286.83 L297.80 286.36 L298.30 285.96 L298.80 285.63 L299.30 285.36 L299.80 285.17 L300.30 285.05" stroke="#a9abae" stroke-width="2.4"/>
</g>
<g stroke="#000" stroke-width="1.3" fill="none">
<line x1="300.65" y1="0" x2="300.65" y2="202.8"/>
<line x1="300.65" y1="219.3" x2="300.65" y2="405"/>
<line x1="295.1" y1="20.40" x2="305.9" y2="20.40"/><line x1="295.1" y1="57.40" x2="305.9" y2="57.40"/><line x1="295.1" y1="94.40" x2="305.9" y2="94.40"/><line x1="295.1" y1="131.40" x2="305.9" y2="131.40"/><line x1="295.1" y1="168.40" x2="305.9" y2="168.40"/>
<line x1="295.1" y1="239.40" x2="305.9" y2="239.40"/><line x1="295.1" y1="276.40" x2="305.9" y2="276.40"/><line x1="295.1" y1="313.40" x2="305.9" y2="313.40"/><line x1="295.1" y1="350.40" x2="305.9" y2="350.40"/><line x1="295.1" y1="387.40" x2="305.9" y2="387.40"/>
</g>
<path d="M299.50 127.20 L300.00 127.20 L300.50 127.19 L301.00 127.18" stroke="#a9abae" stroke-width="2.4" fill="none"/>
</svg>
<svg class="txt" width="602" height="407" viewBox="0 0 602 407">
<text x="163.50" y="27.20" font-family="Liberation Sans, sans-serif" font-size="20.3" textLength="42.60" lengthAdjust="spacingAndGlyphs" fill="#000">steel</text>
<text x="406.00" y="27.30" font-family="Liberation Sans, sans-serif" font-size="20.3" textLength="50.90" lengthAdjust="spacingAndGlyphs" fill="#000">water</text>
<text x="159.40" y="241.00" font-family="Liberation Sans, sans-serif" font-size="20.3" textLength="50.90" lengthAdjust="spacingAndGlyphs" fill="#000">water</text>
<text x="410.50" y="241.10" font-family="Liberation Sans, sans-serif" font-size="20.3" textLength="42.60" lengthAdjust="spacingAndGlyphs" fill="#000">steel</text>
<text x="45.30" y="39.30" font-family="Liberation Serif, serif" font-style="italic" font-size="24.3" fill="#000" stroke="#000" stroke-width="0.3">p</text><text x="56.50" y="48.70" font-family="Liberation Serif, serif" font-style="italic" font-size="15" fill="#000" stroke="#000" stroke-width="0.2">i</text>
<text x="42.60" y="153.90" font-family="Liberation Serif, serif" font-style="italic" font-size="25" fill="#000" stroke="#000" stroke-width="0.3">p</text><text x="54.00" y="163.00" font-family="Liberation Serif, serif" font-style="italic" font-size="15" fill="#000" stroke="#000" stroke-width="0.2">r</text>
<text x="352.80" y="70.70" font-family="Liberation Serif, serif" font-style="italic" font-size="25" fill="#000" stroke="#000" stroke-width="0.3">p</text><text x="363.80" y="80.00" font-family="Liberation Serif, serif" font-style="italic" font-size="15.5" fill="#000" stroke="#000" stroke-width="0.2">t</text>
<text x="45.30" y="265.70" font-family="Liberation Serif, serif" font-style="italic" font-size="25" fill="#000" stroke="#000" stroke-width="0.3">p</text><text x="56.80" y="275.10" font-family="Liberation Serif, serif" font-style="italic" font-size="15" fill="#000" stroke="#000" stroke-width="0.2">i</text>
<text x="43.20" y="344.00" font-family="Liberation Serif, serif" font-style="italic" font-size="25" fill="#000" stroke="#000" stroke-width="0.3">p</text><text x="54.00" y="353.60" font-family="Liberation Serif, serif" font-style="italic" font-size="15" fill="#000" stroke="#000" stroke-width="0.2">r</text>
<text x="347.30" y="261.00" font-family="Liberation Serif, serif" font-style="italic" font-size="25" fill="#000" stroke="#000" stroke-width="0.3">p</text><text x="357.60" y="270.00" font-family="Liberation Serif, serif" font-style="italic" font-size="15.5" fill="#000" stroke="#000" stroke-width="0.2">t</text>
</svg>
</body></html>
